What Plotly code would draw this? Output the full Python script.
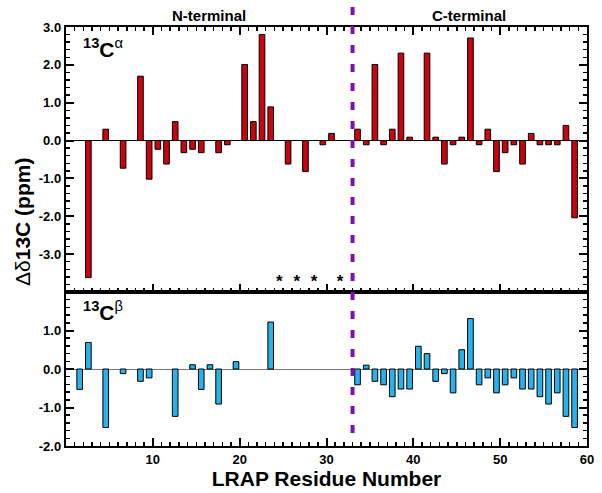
import plotly.graph_objects as go

# ---- data ----
ca_residues = [2, 4, 6, 8, 9, 10, 11, 12, 13, 14, 15, 17, 18, 20, 21, 22, 23, 25, 27, 29, 30,
               33, 34, 35, 36, 37, 38, 39, 41, 42, 43, 44, 45, 46, 47, 48, 49, 50, 51, 52, 53,
               54, 55, 56, 57, 58]
ca_values = [-3.62, 0.30, -0.73, 1.70, -1.02, -0.23, -0.62, 0.50, -0.32, -0.23, -0.32, -0.32, -0.11,
             2.01, 0.50, 2.80, 0.89, -0.62, -0.82, -0.11, 0.19,
             0.30, -0.11, 2.01, -0.11, 0.30, 2.31, 0.09, 2.31, 0.09, -0.62, -0.11, 0.09, 2.71,
             -0.11, 0.30, -0.82, -0.32, -0.11, -0.62, 0.19, -0.11, -0.11, -0.11, 0.40, -2.04]

cb_residues = [1, 2, 4, 6, 8, 9, 12, 14, 15, 16, 17, 19, 23,
               33, 34, 35, 36, 37, 38, 39, 40, 41, 42, 43, 44, 45, 46, 47, 48, 49, 50,
               51, 52, 53, 54, 55, 56, 57, 58]
cb_values = [-0.53, 0.69, -1.52, -0.12, -0.32, -0.23, -1.23, 0.11, -0.53, 0.11, -0.91, 0.19, 1.22,
             -0.41, 0.10, -0.32, -0.41, -0.72, -0.52, -0.52, 0.59, 0.40, -0.32, -0.12, -0.62,
             0.50, 1.31, -0.41, -0.23, -0.62, -0.41, -0.23, -0.52, -0.52, -0.72, -0.91, -0.62,
             -1.23, -1.52]

star_residues = [24, 26, 28, 31]
star_level = -3.75
boundary_residue = 33

x_tickvals = [10, 20, 30, 40, 50, 60]
ca_tickvals = [3, 2, 1, 0, -1, -2, -3]
ca_ticktext = ["3.0", "2.0", "1.0", "0.0", "-1.0", "-2.0", "-3.0"]
cb_tickvals = [1, 0, -1, -2]
cb_ticktext = ["1.0", "0.0", "-1.0", "-2.0"]

# ---- styles ----
RED = "rgb(200,4,14)"
BLUE = "rgb(40,178,235)"
PURPLE = "rgb(128,16,170)"
FONT = "Liberation Sans, Arial, sans-serif"
BAR_W = 0.65
BAR_OFF = 0.25
split = 154 / 419

fig = go.Figure()
fig.add_trace(go.Bar(x=ca_residues, y=ca_values, width=BAR_W, offset=BAR_OFF,
                     marker=dict(color=RED, line=dict(color="black", width=1)),
                     xaxis="x2", yaxis="y2", showlegend=False))
fig.add_trace(go.Bar(x=cb_residues, y=cb_values, width=BAR_W, offset=BAR_OFF,
                     marker=dict(color=BLUE, line=dict(color="black", width=1)),
                     xaxis="x", yaxis="y", showlegend=False))
fig.add_trace(go.Scatter(x=[r + BAR_OFF + BAR_W / 2 for r in star_residues],
                         y=[star_level] * len(star_residues), mode="text",
                         text=["*"] * len(star_residues),
                         textfont=dict(family=FONT, size=17, color="black", weight="bold"),
                         xaxis="x2", yaxis="y2", showlegend=False))

tickfont = dict(family=FONT, size=13, color="black", weight="bold")
axis_common = dict(showline=True, linewidth=2.2, linecolor="black",
                   ticks="inside", ticklen=8, tickwidth=2, tickcolor="black",
                   showgrid=False, automargin=False, tickfont=tickfont)
minor_x = dict(dtick=1, tick0=0, ticks="inside", ticklen=4, tickwidth=1.5, tickcolor="black")
minor_y = dict(dtick=0.2, tick0=0, ticks="inside", ticklen=4, tickwidth=1.5, tickcolor="black")

fig.update_layout(
    width=602, height=493,
    margin=dict(l=66, r=15, t=27, b=47),
    paper_bgcolor="white", plot_bgcolor="white",
    bargap=0, hovermode=False,
    xaxis=dict(axis_common, domain=[0, 1], range=[0, 60], anchor="y", mirror=True,
               tickvals=x_tickvals, zeroline=False, minor=minor_x,
               title=dict(text="<b>LRAP Residue Number</b>",
                          font=dict(family=FONT, size=21, color="black"), standoff=4)),
    xaxis2=dict(axis_common, domain=[0, 1], range=[0, 60], anchor="y2", matches="x",
                mirror="ticks", tickvals=x_tickvals, showticklabels=False, zeroline=False,
                minor=minor_x),
    yaxis=dict(axis_common, domain=[0, split], range=[-2, 2], anchor="x", mirror="ticks",
               tickvals=cb_tickvals, ticktext=cb_ticktext,
               zeroline=True, zerolinecolor="rgb(120,120,120)", zerolinewidth=1,
               minor=minor_y),
    yaxis2=dict(axis_common, domain=[split, 1], range=[-4, 3], anchor="x2", mirror="ticks",
                tickvals=ca_tickvals, ticktext=ca_ticktext,
                zeroline=True, zerolinecolor="black", zerolinewidth=1.2,
                minor=minor_y),
)

# boundary between N- and C-terminal regions
fig.add_shape(type="line", xref="x", yref="paper",
              x0=boundary_residue, x1=boundary_residue, y0=0.031, y1=1.06,
              line=dict(color=PURPLE, width=4, dash="8px,11px"), layer="above")

fig.add_annotation(text="<b>N-terminal</b>", xref="paper", yref="paper",
                   x=(209 - 66) / 521, y=1.0, yanchor="bottom", xanchor="center",
                   showarrow=False, yshift=1,
                   font=dict(family=FONT, size=15, color="black"))
fig.add_annotation(text="<b>C-terminal</b>", xref="paper", yref="paper",
                   x=(469 - 66) / 521, y=1.0, yanchor="bottom", xanchor="center",
                   showarrow=False, yshift=1,
                   font=dict(family=FONT, size=15, color="black"))
fig.add_annotation(text="<b><sup>13</sup>C</b><sup>α</sup>", xref="paper", yref="paper",
                   x=(81 - 66) / 521, y=1.0, xanchor="left", yanchor="top",
                   showarrow=False, yshift=-6,
                   font=dict(family=FONT, size=21, color="black"))
fig.add_annotation(text="<b><sup>13</sup>C</b><sup>β</sup>", xref="paper", yref="paper",
                   x=(81 - 66) / 521, y=split, xanchor="left", yanchor="top",
                   showarrow=False, yshift=-4,
                   font=dict(family=FONT, size=21, color="black"))
fig.add_annotation(text="Δδ<b>13C (ppm)</b>", xref="paper", yref="paper",
                   x=0, xshift=-44, y=(446 - 222) / 419, xanchor="center", yanchor="middle",
                   textangle=-90, showarrow=False,
                   font=dict(family=FONT, size=21, color="black"))

fig.write_html("out.html", config={"displayModeBar": False, "staticPlot": True},
               post_script="document.body.style.margin='0px';document.body.style.padding='0px';")
